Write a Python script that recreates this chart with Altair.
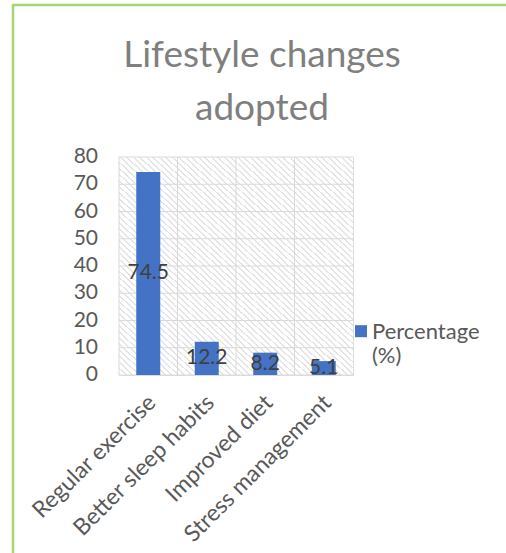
import altair as alt
import pandas as pd

categories = ["Regular exercise", "Better sleep habits", "Improved diet", "Stress management"]
values = [74.5, 12.2, 8.2, 5.1]
series_name = "Percentage (%)"
y_ticks = [0, 10, 20, 30, 40, 50, 60, 70, 80]
title_lines = ["Lifestyle changes", "adopted"]

df = pd.DataFrame({"Category": categories, "Value": values, "Series": [series_name] * len(categories)})
ticks_df = pd.DataFrame({"Value": y_ticks})
cats_df = pd.DataFrame({"Category": categories})

FONT = "Lato"
BAR = "#4472C4"
GRID = "#d9d9d9"
LABEL = "#595959"

# diagonal hatch texture for the plot background (style only)
stops = []
n = 72
for i in range(n):
    a = i / n
    b = (i + 0.3) / n
    c = (i + 1) / n
    stops += [
        {"offset": a, "color": "#e4e4e4"},
        {"offset": b, "color": "#e4e4e4"},
        {"offset": b, "color": "#ffffff"},
        {"offset": c, "color": "#ffffff"},
    ]
hatch = {"gradient": "linear", "x1": 0, "y1": 1, "x2": 1, "y2": 0, "stops": stops}

one = pd.DataFrame({"k": [0]})

xaxis = alt.Axis(
    title=None, labelAngle=315, domain=False, ticks=False, grid=False,
    labelFontSize=23, labelFont=FONT, labelColor=LABEL, labelPadding=16,
    labelLimit=400, labelOffset=-4,
)
xscale = alt.Scale(paddingInner=0, paddingOuter=0)
xenc = alt.X("Category:N", sort=categories, scale=xscale, axis=xaxis)
yenc = alt.Y("Value:Q", scale=alt.Scale(domain=[0, 80]), axis=None)

bg = alt.Chart(one).mark_rect(fill=hatch, strokeWidth=0).encode(
    x=alt.value(0), x2=alt.value("width"), y=alt.value(0), y2=alt.value("height")
)

hgrid = alt.Chart(ticks_df).mark_rule(color=GRID, strokeWidth=1).encode(y=yenc)
vgrid = alt.Chart(cats_df).mark_rule(color=GRID, strokeWidth=1).encode(
    x=alt.X("Category:N", sort=categories, bandPosition=0, scale=xscale, axis=xaxis)
)

# y tick labels, placed through the y scale
ylabels = alt.Chart(ticks_df).mark_text(
    align="right", baseline="middle", fontSize=21, font=FONT, color=LABEL, clip=False
).encode(
    y=yenc,
    x=alt.value(-21),
    text=alt.Text("Value:Q", format="d"),
)

bars = alt.Chart(df).mark_bar(width=alt.RelativeBandSize(0.41), color=BAR).encode(
    x=xenc,
    y=yenc,
    color=alt.Color(
        "Series:N",
        scale=alt.Scale(domain=[series_name], range=[BAR]),
        legend=alt.Legend(
            title=None, orient="none", legendX=231, legendY=171, padding=0,
            symbolType="M-1,-2.3H1V-0.3H-1Z", symbolSize=144, symbolStrokeWidth=0,
            labelExpr="['Percentage', '(%)']", labelFontSize=22, labelFont=FONT,
            labelColor=LABEL, labelBaseline="alphabetic",
            labelOffset=0,
        ),
    ),
)

labels = alt.Chart(df).transform_calculate(mid="datum.Value / 2").mark_text(
    fontSize=21, font=FONT, color="#404040"
).encode(
    x=alt.X("Category:N", sort=categories, scale=xscale, axis=xaxis),
    y=alt.Y("mid:Q", scale=alt.Scale(domain=[0, 80]), axis=None),
    text=alt.Text("Value:Q", format=".1f"),
)

frame_left = alt.Chart(one).mark_rule(color="#a5d76e", strokeWidth=2.5, clip=False).encode(
    x=alt.value(-106), y=alt.value(-152), y2=alt.value(400)
)
frame_top = alt.Chart(one).mark_rule(color="#a5d76e", strokeWidth=2.5, clip=False).encode(
    x=alt.value(-107), x2=alt.value(390), y=alt.value(-152)
)

chart = alt.layer(bg, hgrid, vgrid, ylabels, bars, labels, frame_left, frame_top).properties(
    width=234,
    height=218,
    autosize=alt.AutoSizeParams(type="none"),
    padding={"left": 119, "top": 157, "right": 153, "bottom": 178},
    title=alt.Title(
        title_lines, fontSize=37, font=FONT, fontWeight="normal", color="#7f7f7f",
        anchor="middle", dx=26, offset=-124, lineHeight=53,
    ),
).configure_view(stroke=GRID).configure(background="white")

chart.save("out.html", embed_options={"renderer": "svg", "actions": False})
